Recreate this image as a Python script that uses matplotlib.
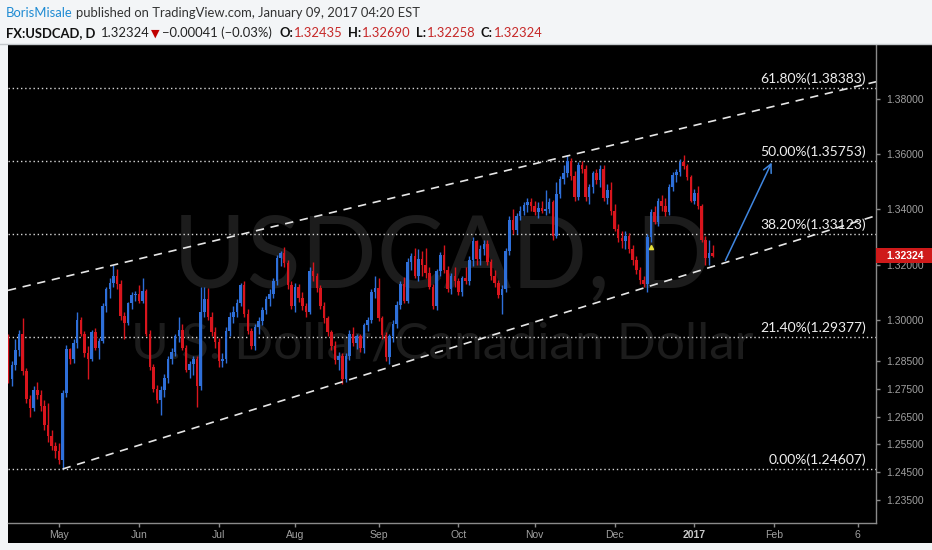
import matplotlib
matplotlib.use('Agg')
import matplotlib.pyplot as plt
from matplotlib.patches import Rectangle
from matplotlib.lines import Line2D
import matplotlib.transforms as mtransforms
import numpy as np
import pandas as pd

W, H = 932, 550

# ---------------- data ----------------
first_bar = '2016-04-12'
calendar_end = '2017-03-31'

opens = [
 1.2935, 1.2785, 1.2835, 1.2890, 1.2950, 1.2815, 1.2715, 1.2680, 1.2745, 1.2730,
 1.2690, 1.2620, 1.2580, 1.2545,
 1.2525, 1.2495, 1.2735, 1.2895, 1.2860, 1.2915, 1.3000, 1.2950, 1.2880, 1.2860,
 1.2955, 1.2900, 1.2925, 1.3050, 1.3110, 1.3135, 1.3160, 1.3130, 1.3015, 1.2990,
 1.3060, 1.3090,
 1.3095, 1.3070, 1.3105, 1.2950, 1.2830, 1.2750, 1.2710, 1.2745, 1.2790, 1.2860,
 1.2885, 1.2940, 1.2965, 1.2900, 1.2820, 1.2840, 1.2860, 1.2760, 1.3030, 1.3075,
 1.3010, 1.2955,
 1.2920, 1.2850, 1.2860, 1.2960, 1.3010, 1.3030, 1.3060, 1.3125, 1.3020, 1.2960,
 1.2905, 1.2975, 1.2995, 1.3035, 1.3075, 1.3095, 1.3140, 1.3225, 1.3240, 1.3205,
 1.3125,
 1.3050, 1.3120, 1.3080, 1.3050, 1.3030, 1.3175, 1.3160, 1.3115, 1.3050, 1.3005,
 1.2955, 1.2905, 1.2855, 1.2870, 1.2785, 1.2870, 1.2950, 1.2915, 1.2940, 1.2900,
 1.2980, 1.3000, 1.3100,
 1.3115, 1.3005, 1.2945, 1.2865, 1.2940, 1.2985, 1.3055, 1.3130, 1.3070, 1.3210,
 1.3230, 1.3160, 1.3220, 1.3200, 1.3170, 1.3120, 1.3050, 1.3175, 1.3235, 1.3180,
 1.3110, 1.3160,
 1.3140, 1.3100, 1.3150, 1.3140, 1.3215, 1.3285, 1.3220, 1.3255, 1.3275, 1.3210,
 1.3160, 1.3135, 1.3090, 1.3110, 1.3250, 1.3360, 1.3325, 1.3375, 1.3395, 1.3415,
 1.3425,
 1.3410, 1.3390, 1.3405, 1.3395, 1.3400, 1.3425, 1.3305, 1.3455, 1.3510, 1.3530,
 1.3575, 1.3520, 1.3445, 1.3560, 1.3545, 1.3445, 1.3480, 1.3530, 1.3505, 1.3545,
 1.3440, 1.3470,
 1.3395, 1.3330, 1.3295, 1.3285, 1.3305, 1.3255, 1.3215, 1.3180, 1.3145, 1.3130,
 1.3300, 1.3390, 1.3355, 1.3430, 1.3410, 1.3390, 1.3480, 1.3525, 1.3535, 1.3570,
 1.3555, 1.3515,
 1.3430, 1.3460, 1.3410, 1.3290, 1.3225, 1.32435,
]
highs = [
 1.2950, 1.2850, 1.2930, 1.2965, 1.3005, 1.2825, 1.2730, 1.2760, 1.2775, 1.2745,
 1.2710, 1.2700, 1.2600, 1.2560,
 1.2555, 1.2745, 1.2910, 1.2900, 1.2930, 1.3030, 1.3010, 1.2960, 1.2905, 1.2965,
 1.2970, 1.2935, 1.3060, 1.3120, 1.3150, 1.3198, 1.3185, 1.3145, 1.3030, 1.3065,
 1.3100, 1.3105,
 1.3125, 1.3150, 1.3110, 1.2965, 1.2840, 1.2765, 1.2760, 1.2805, 1.2870, 1.2900,
 1.2950, 1.3010, 1.2985, 1.2910, 1.2850, 1.2870, 1.2870, 1.3120, 1.3120, 1.3115,
 1.3030, 1.2975,
 1.2935, 1.2880, 1.2975, 1.3030, 1.3050, 1.3075, 1.3135, 1.3140, 1.3040, 1.2970,
 1.2985, 1.3010, 1.3045, 1.3085, 1.3110, 1.3150, 1.3235, 1.3250, 1.3265, 1.3215,
 1.3140,
 1.3135, 1.3130, 1.3100, 1.3060, 1.3190, 1.3210, 1.3170, 1.3125, 1.3065, 1.3015,
 1.2965, 1.2925, 1.2885, 1.2880, 1.2880, 1.2965, 1.2975, 1.2950, 1.2950, 1.2990,
 1.3010, 1.3110, 1.3160,
 1.3150, 1.3015, 1.2955, 1.2950, 1.3000, 1.3070, 1.3140, 1.3155, 1.3225, 1.3240,
 1.3260, 1.3255, 1.3250, 1.3260, 1.3190, 1.3130, 1.3185, 1.3245, 1.3270, 1.3195,
 1.3170, 1.3190,
 1.3150, 1.3160, 1.3190, 1.3230, 1.3300, 1.3290, 1.3270, 1.3290, 1.3290, 1.3220,
 1.3180, 1.3145, 1.3125, 1.3260, 1.3375, 1.3400, 1.3385, 1.3410, 1.3425, 1.3440,
 1.3440,
 1.3430, 1.3425, 1.3430, 1.3470, 1.3440, 1.3435, 1.3500, 1.3520, 1.3560, 1.3596,
 1.3585, 1.3540, 1.3570, 1.3575, 1.3560, 1.3490, 1.3540, 1.3545, 1.3560, 1.3560,
 1.3490, 1.3500,
 1.3420, 1.3345, 1.3320, 1.3320, 1.3315, 1.3270, 1.3230, 1.3190, 1.3160, 1.3310,
 1.3400, 1.3410, 1.3440, 1.3450, 1.3440, 1.3490, 1.3535, 1.3545, 1.3580, 1.3598,
 1.3565, 1.3525,
 1.3475, 1.3485, 1.3420, 1.3305, 1.3290, 1.32690,
]
lows = [
 1.2770, 1.2760, 1.2820, 1.2870, 1.2800, 1.2700, 1.2650, 1.2670, 1.2715, 1.2670,
 1.2600, 1.2560, 1.2530, 1.2500,
 1.2480, 1.2461, 1.2720, 1.2840, 1.2845, 1.2900, 1.2940, 1.2865, 1.2785, 1.2850,
 1.2890, 1.2860, 1.2915, 1.3030, 1.3080, 1.3120, 1.3110, 1.3000, 1.2930, 1.2980,
 1.3040, 1.3070,
 1.3060, 1.3060, 1.2940, 1.2820, 1.2740, 1.2700, 1.2655, 1.2720, 1.2770, 1.2840,
 1.2870, 1.2920, 1.2890, 1.2810, 1.2790, 1.2800, 1.2685, 1.2745, 1.3010, 1.3000,
 1.2940, 1.2900,
 1.2830, 1.2830, 1.2845, 1.2940, 1.2990, 1.3010, 1.3050, 1.3010, 1.2950, 1.2895,
 1.2890, 1.2950, 1.2980, 1.3020, 1.3050, 1.3080, 1.3125, 1.3195, 1.3190, 1.3110,
 1.3040,
 1.3030, 1.3065, 1.3035, 1.3010, 1.3020, 1.3140, 1.3100, 1.3040, 1.2990, 1.2940,
 1.2890, 1.2840, 1.2820, 1.2768, 1.2775, 1.2855, 1.2905, 1.2895, 1.2885, 1.2880,
 1.2960, 1.2990, 1.3080,
 1.2995, 1.2930, 1.2850, 1.2840, 1.2920, 1.2970, 1.3040, 1.3060, 1.3060, 1.3180,
 1.3150, 1.3140, 1.3160, 1.3150, 1.3110, 1.3040, 1.3035, 1.3160, 1.3170, 1.3100,
 1.3095, 1.3120,
 1.3090, 1.3085, 1.3130, 1.3125, 1.3195, 1.3200, 1.3200, 1.3235, 1.3200, 1.3145,
 1.3120, 1.3080, 1.3020, 1.3100, 1.3235, 1.3310, 1.3310, 1.3360, 1.3380, 1.3390,
 1.3395,
 1.3380, 1.3370, 1.3385, 1.3380, 1.3385, 1.3290, 1.3295, 1.3440, 1.3490, 1.3515,
 1.3505, 1.3430, 1.3435, 1.3530, 1.3430, 1.3420, 1.3460, 1.3490, 1.3480, 1.3430,
 1.3420, 1.3380,
 1.3320, 1.3280, 1.3260, 1.3255, 1.3240, 1.3200, 1.3165, 1.3130, 1.3118, 1.3100,
 1.3280, 1.3345, 1.3340, 1.3395, 1.3375, 1.3380, 1.3465, 1.3500, 1.3520, 1.3545,
 1.3505, 1.3425,
 1.3420, 1.3400, 1.3280, 1.3200, 1.3200, 1.32258,
]
closes = [
 1.2785, 1.2835, 1.2890, 1.2950, 1.2815, 1.2715, 1.2680, 1.2745, 1.2730, 1.2690,
 1.2620, 1.2580, 1.2545, 1.2525,
 1.2495, 1.2735, 1.2895, 1.2860, 1.2915, 1.3000, 1.2950, 1.2880, 1.2860, 1.2955,
 1.2900, 1.2925, 1.3050, 1.3110, 1.3135, 1.3160, 1.3130, 1.3015, 1.2990, 1.3060,
 1.3090, 1.3095,
 1.3070, 1.3105, 1.2950, 1.2830, 1.2750, 1.2710, 1.2745, 1.2790, 1.2860, 1.2885,
 1.2940, 1.2965, 1.2900, 1.2820, 1.2840, 1.2860, 1.2760, 1.3030, 1.3075, 1.3010,
 1.2955, 1.2920,
 1.2850, 1.2860, 1.2960, 1.3010, 1.3030, 1.3060, 1.3125, 1.3020, 1.2960, 1.2905,
 1.2975, 1.2995, 1.3035, 1.3075, 1.3095, 1.3140, 1.3225, 1.3240, 1.3205, 1.3125,
 1.3050,
 1.3120, 1.3080, 1.3050, 1.3030, 1.3175, 1.3160, 1.3115, 1.3050, 1.3005, 1.2955,
 1.2905, 1.2855, 1.2870, 1.2785, 1.2870, 1.2950, 1.2915, 1.2940, 1.2900, 1.2980,
 1.3000, 1.3100, 1.3115,
 1.3005, 1.2945, 1.2865, 1.2940, 1.2985, 1.3055, 1.3130, 1.3070, 1.3210, 1.3230,
 1.3160, 1.3220, 1.3200, 1.3170, 1.3120, 1.3050, 1.3175, 1.3235, 1.3180, 1.3110,
 1.3160, 1.3140,
 1.3100, 1.3150, 1.3140, 1.3215, 1.3285, 1.3220, 1.3255, 1.3275, 1.3210, 1.3160,
 1.3135, 1.3090, 1.3110, 1.3250, 1.3360, 1.3325, 1.3375, 1.3395, 1.3415, 1.3425,
 1.3410,
 1.3390, 1.3405, 1.3395, 1.3400, 1.3425, 1.3305, 1.3455, 1.3510, 1.3530, 1.3575,
 1.3520, 1.3445, 1.3560, 1.3545, 1.3445, 1.3480, 1.3530, 1.3505, 1.3545, 1.3440,
 1.3470, 1.3395,
 1.3330, 1.3295, 1.3285, 1.3305, 1.3255, 1.3215, 1.3180, 1.3145, 1.3130, 1.3300,
 1.3390, 1.3355, 1.3430, 1.3410, 1.3390, 1.3480, 1.3525, 1.3535, 1.3570, 1.3555,
 1.3515, 1.3430,
 1.3460, 1.3410, 1.3290, 1.3225, 1.3243, 1.32324,
]

month_tick_dates = ['2016-05-02', '2016-06-01', '2016-07-01', '2016-08-01', '2016-09-01',
                    '2016-10-03', '2016-11-01', '2016-12-01', '2017-01-02', '2017-02-01',
                    '2017-03-06']
month_tick_labels = ['May', 'Jun', 'Jul', 'Aug', 'Sep', 'Oct', 'Nov', 'Dec', '2017', 'Feb', '6']

price_ticks = [1.235, 1.245, 1.255, 1.265, 1.275, 1.285, 1.300, 1.320, 1.340, 1.360, 1.380]

fib_pcts = ['61.80%', '50.00%', '38.20%', '21.40%', '0.00%']
fib_prices = [1.38383, 1.35753, 1.33123, 1.29377, 1.24607]

upper_dates = ['2016-05-23', '2016-11-15']
upper_prices = [1.31983, 1.35960]
lower_dates = ['2016-05-03', '2016-12-14']
lower_prices = [1.24607, 1.31192]

arrow_dates = ['2017-01-12', '2017-01-31']
arrow_prices = [1.3206, 1.3578]

marker_date = '2016-12-15'
marker_price = 1.3263

last_price = 1.32324

# ---------------- styling ----------------
BLUE = '#2e6fd9'
RED = '#d9151d'
BG = '#f3f5f7'

calendar = pd.bdate_range(first_bar, calendar_end)
pos = {d.strftime('%Y-%m-%d'): i for i, d in enumerate(calendar)}

fig = plt.figure(figsize=(W / 100, H / 100), dpi=100, facecolor=BG)

# black pane background (including price and time scales)
bg = fig.add_axes([8 / W, (H - 543) / H, (W - 8) / W, (543 - 45) / H])
bg.set_facecolor('black')
bg.set_xticks([]); bg.set_yticks([])
for s in bg.spines.values():
    s.set_visible(False)

ax = fig.add_axes([8 / W, (H - 523) / H, 868 / W, 478 / H])
ax.set_facecolor('black')

xs = np.arange(len(closes))
o = np.array(opens); hi = np.array(highs); lo = np.array(lows); c = np.array(closes)
up = c >= o
cols = np.where(up, BLUE, RED)

ax.set_xlim(-0.05, pos['2016-05-02'] + 225.0)
ax.set_ylim(1.22654, 1.3994)

# watermark
ax.text(0.5, 0.494, 'USDCAD, D', transform=ax.transAxes, ha='center', va='baseline',
        fontsize=72, color='#1c1c1c', family='Lato', zorder=0)
ax.text(0.5, 0.345, 'U.S. Dollar/Canadian Dollar', transform=ax.transAxes, ha='center',
        va='baseline', fontsize=37, color='#1c1c1c', family='Lato', zorder=0)

# fib levels
trans = mtransforms.blended_transform_factory(ax.transAxes, ax.transData)
for pct, p in zip(fib_pcts, fib_prices):
    ax.axhline(p, color='#d8d8d8', lw=1.0, ls=(0, (1, 2)), zorder=1)
    ax.annotate(f'{pct}({p:.5f})', xy=(0.9885, p), xycoords=trans, xytext=(0, 2),
                textcoords='offset points', ha='right', va='bottom',
                color='#f0f0f0', fontsize=10, family='Lato', zorder=6)

# candles
ax.vlines(xs, lo, hi, colors=cols, linewidth=1.0, zorder=3)
body_lo = np.minimum(o, c)
body_h = np.maximum(np.abs(c - o), 0.00015)
ax.bar(xs, body_h, bottom=body_lo, width=0.7, color=cols, linewidth=0, zorder=4)

# channel lines
xl = ax.get_xlim()
ux = [pos[d] for d in upper_dates]
us = (upper_prices[1] - upper_prices[0]) / (ux[1] - ux[0])
ax.plot([xl[0], xl[1]], [upper_prices[0] + us * (xl[0] - ux[0]), upper_prices[0] + us * (xl[1] - ux[0])],
        color='#e6e6e6', lw=1.2, ls=(0, (5, 4)), zorder=5)
lx = [pos[d] for d in lower_dates]
ls_ = (lower_prices[1] - lower_prices[0]) / (lx[1] - lx[0])
ax.plot([lx[0], xl[1]], [lower_prices[0], lower_prices[0] + ls_ * (xl[1] - lx[0])],
        color='#e6e6e6', lw=1.2, ls=(0, (5, 4)), zorder=5)

# arrow
ax.annotate('', xy=(pos[arrow_dates[1]] + 0.6, arrow_prices[1]),
            xytext=(pos[arrow_dates[0]] + 0.2, arrow_prices[0]),
            arrowprops=dict(arrowstyle='->,head_length=0.6,head_width=0.3', color='#3f86e0', lw=1.1),
            zorder=6)

# small marker
ax.plot([pos[marker_date]], [marker_price], marker='^', ms=3, color='#e6e03a', zorder=6, ls='none')

# axes styling
for s in ['top', 'left']:
    ax.spines[s].set_visible(False)
for s in ['right', 'bottom']:
    ax.spines[s].set_color('#8a8a8a')
    ax.spines[s].set_linewidth(1.0)
ax.yaxis.tick_right()
ax.set_yticks(price_ticks)
ax.set_yticklabels([f'{v:.5f}' for v in price_ticks])
ax.set_xticks([pos[d] for d in month_tick_dates])
ax.set_xticklabels(month_tick_labels)
ax.tick_params(axis='y', colors='#8a8a8a', labelcolor='#a0a0a0', length=3, width=1,
               pad=4, labelsize=7.5)
ax.tick_params(axis='x', colors='#8a8a8a', labelcolor='#a0a0a0', length=3, width=1,
               pad=2, labelsize=7.5)
for lab in ax.get_xticklabels() + ax.get_yticklabels():
    lab.set_family('Liberation Sans')
xlabs = ax.get_xticklabels()
xlabs[8].set_fontweight('bold')
xlabs[8].set_color('#c8c8c8')

# last price label
fig.canvas.draw()
renderer = fig.canvas.get_renderer()
ypix = ax.transData.transform((0, last_price))[1]
fig.add_artist(Rectangle((876 / W, (ypix - 7.5) / H), 56 / W, 15 / H, transform=fig.transFigure,
                         facecolor='#cf1a1a', edgecolor='none', zorder=10))
fig.text(905 / W, ypix / H, f'{last_price:.5f}', color='white', fontsize=7.5, fontweight='bold',
         ha='center', va='center', family='Liberation Sans', zorder=11)

# header separator
fig.add_artist(Line2D([0, 1], [(H - 44) / H, (H - 44) / H], transform=fig.transFigure,
                      color='#c4c8cc', lw=1.0, zorder=1))

# header texts (placed one after another, measured)
fam = ['Lato', 'DejaVu Sans']
def hrow(x0, yp, pieces, size=9.4):
    xp = x0
    for s, color, weight, gap in pieces:
        t = fig.text(xp / W, (H - yp) / H, s, color=color, fontweight=weight,
                     fontsize=size if s != '▼' else 8, family=fam, ha='left', va='baseline')
        xp += t.get_window_extent(renderer).width + gap

hrow(6, 17, [('BorisMisale', '#1f8bd3', 'normal', 3),
             ('published on TradingView.com, January 09, 2017 04:20 EST', '#333333', 'normal', 0)])
hrow(6, 37, [('FX:USDCAD, D', '#111111', 'bold', 6),
             ('1.32324', '#222222', 'normal', 1),
             ('▼', '#c00000', 'normal', 2),
             ('\u22120.00041 (\u22120.03%)', '#222222', 'normal', 8),
             ('O:', '#111111', 'bold', 1),
             ('1.32435', '#c62828', 'normal', 5),
             ('H:', '#111111', 'bold', 1),
             ('1.32690', '#c62828', 'normal', 5),
             ('L:', '#111111', 'bold', 1),
             ('1.32258', '#c62828', 'normal', 5),
             ('C:', '#111111', 'bold', 1),
             ('1.32324', '#c62828', 'normal', 0)])

fig.savefig('out.png', dpi=100, facecolor=BG)
